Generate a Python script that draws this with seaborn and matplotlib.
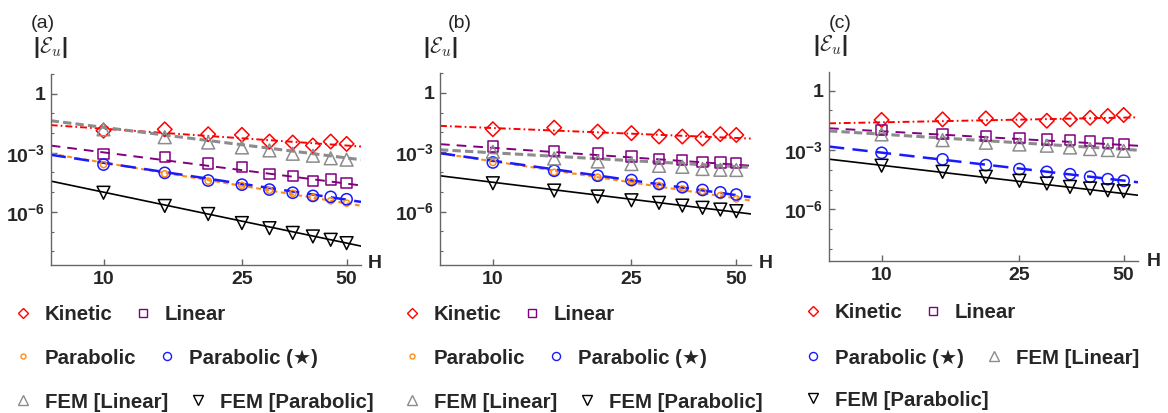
import numpy as np
import matplotlib
matplotlib.use("Agg")
import matplotlib.pyplot as plt
from matplotlib.lines import Line2D
from matplotlib.ticker import FixedLocator, FixedFormatter, LogLocator, NullLocator, NullFormatter
import seaborn as sns

H = [10, 15, 20, 25, 30, 35, 40, 45, 50]

labels = ["Kinetic", "Linear", "Parabolic", "Parabolic (★)", "FEM [Linear]", "FEM [Parabolic]"]

# log10 |E_u|, order: kinetic, linear, parabolic, parabolic*, FEM lin, FEM par
kin_a = [-1.88, -1.81, -2.06, -2.09, -2.43, -2.48, -2.63, -2.43, -2.55]
lin_a = [-3.05, -3.23, -3.55, -3.72, -4.07, -4.19, -4.44, -4.36, -4.52]
par_a = [-3.60, -4.07, -4.44, -4.66, -4.91, -5.06, -5.28, -5.44, -5.56]
pars_a = [-3.60, -4.02, -4.41, -4.62, -4.87, -5.03, -5.19, -5.24, -5.36]
feml_a = [-1.81, -2.21, -2.48, -2.73, -2.88, -3.05, -3.15, -3.28, -3.35]
femp_a = [-5.03, -5.70, -6.11, -6.57, -6.83, -7.07, -7.25, -7.42, -7.59]

kin_b = [-1.84, -1.76, -1.96, -2.04, -2.21, -2.21, -2.31, -2.09, -2.13]
lin_b = [-2.71, -2.93, -3.07, -3.22, -3.35, -3.40, -3.48, -3.52, -3.55]
par_b = [-3.52, -4.02, -4.27, -4.49, -4.69, -4.86, -4.99, -5.19, -5.36]
pars_b = [-3.52, -3.94, -4.19, -4.41, -4.61, -4.77, -4.91, -5.03, -5.14]
feml_b = [-2.98, -3.32, -3.47, -3.60, -3.69, -3.74, -3.85, -3.89, -3.90]
femp_b = [-4.57, -4.94, -5.24, -5.43, -5.56, -5.70, -5.81, -5.90, -5.98]

kin_c = [-1.48, -1.45, -1.40, -1.48, -1.52, -1.45, -1.37, -1.28, -1.23]
lin_c = [-1.99, -2.19, -2.28, -2.38, -2.46, -2.50, -2.56, -2.63, -2.71]
pars_c = [-3.14, -3.47, -3.76, -3.96, -4.10, -4.22, -4.35, -4.47, -4.55]
feml_c = [-2.21, -2.50, -2.63, -2.72, -2.78, -2.87, -2.95, -3.00, -3.04]
femp_c = [-3.79, -4.10, -4.35, -4.55, -4.69, -4.86, -4.94, -5.03, -5.08]

# power-law fits: log10 value at H=10 and exponent
fit10_a = [-1.78, -2.98, -3.50, -3.51, -1.71, -5.00]
slope_a = [-1.22, -2.27, -2.96, -2.68, -2.22, -3.70]
fit10_b = [-1.78, -2.78, -3.46, -3.43, -3.03, -4.52]
slope_b = [-0.72, -1.22, -2.68, -2.49, -1.00, -2.16]
fit10_c = [-1.60, -2.05, None, -3.13, -2.20, -3.77]
slope_c = [0.34, -0.99, None, -2.02, -1.09, -2.04]

colors = ["#ff0000", "#800080", "#ff8c1a", "#1a1aff", "#8c8c8c", "#000000"]
markers = ["D", "s", "o", "o", "^", "v"]
msize = [55, 55, 20, 65, 85, 85]
leg_ms = [5.2, 5.8, 3.6, 5.8, 7.0, 7.0]
lstyles = [(0, (5, 2.2, 1.2, 2.2)), (0, (7, 5)), (0, (3.5, 2.5)), (0, (11, 6)), (0, (6, 3)), "-"]
lwidths = [1.4, 1.4, 1.5, 1.8, 2.2, 1.2]

sns.set_style("ticks")
plt.rcParams["font.family"] = ["Liberation Sans", "DejaVu Sans"]
plt.rcParams["font.weight"] = "bold"
plt.rcParams["lines.scale_dashes"] = False

W, HP = 1168, 413
fig = plt.figure(figsize=(W / 100, HP / 100), dpi=100)


def rect(l, t, r, b):
    return [l / W, 1 - b / HP, (r - l) / W, (b - t) / HP]


def fp(x, y):
    return (x / W, 1 - y / HP)


panels = [
    dict(tag="(a)", data=[kin_a, lin_a, par_a, pars_a, feml_a, femp_a], f10=fit10_a, sl=slope_a,
         box=(50.7, 74, 361, 265), ylim=(10 ** -8.7, 10 ** 1.0), tagxy=(43, 24), ylab=(50, 48), hxy=(375, 264),
         x0=12.8, rows=[(0, 1), (2, 3), (4, 5)], rowy=[315, 358, 402]),
    dict(tag="(b)", data=[kin_b, lin_b, par_b, pars_b, feml_b, femp_b], f10=fit10_b, sl=slope_b,
         box=(440, 73, 750.7, 265), ylim=(10 ** -8.7, 10 ** 1.0), tagxy=(460, 24), ylab=(440, 48), hxy=(766, 264),
         x0=401.8, rows=[(0, 1), (2, 3), (4, 5)], rowy=[315, 358, 402]),
    dict(tag="(c)", data=[kin_c, lin_c, None, pars_c, feml_c, femp_c], f10=fit10_c, sl=slope_c,
         box=(829, 72, 1138, 261), ylim=(10 ** -8.6, 10 ** 0.94), tagxy=(840, 23), ylab=(830, 46), hxy=(1154, 261),
         x0=802.8, rows=[(0, 1), (3, 4), (5,)], rowy=[313, 358, 400]),
]

xlo, xhi = 7.05, 55
xs = np.geomspace(xlo, xhi, 80)

for p in panels:
    ax = fig.add_axes(rect(*p["box"]))
    for i, vals in enumerate(p["data"]):
        if vals is None:
            continue
        ax.plot(xs, 10 ** (p["f10"][i] + p["sl"][i] * np.log10(xs / 10)),
                color=colors[i], ls=lstyles[i], lw=lwidths[i], zorder=2)
        sns.scatterplot(x=H, y=10 ** np.array(vals), ax=ax, marker=markers[i], s=msize[i],
                        facecolor="none", edgecolor=colors[i], linewidth=1.1, zorder=3)
    ax.set_xscale("log")
    ax.set_yscale("log")
    ax.set_xlim(xlo, xhi)
    ax.set_ylim(*p["ylim"])
    ax.xaxis.set_major_locator(FixedLocator([10, 25, 50]))
    ax.xaxis.set_major_formatter(FixedFormatter(["10", "25", "50"]))
    ax.xaxis.set_minor_locator(NullLocator())
    ax.yaxis.set_major_locator(FixedLocator([1e-6, 1e-3, 1]))
    ax.yaxis.set_major_formatter(FixedFormatter([r"$\mathdefault{10^{-6}}$", r"$\mathdefault{10^{-3}}$", "1"]))
    ax.yaxis.set_minor_locator(LogLocator(base=10, subs=(1.0,), numticks=20))
    ax.yaxis.set_minor_formatter(NullFormatter())
    ax.tick_params(which="both", direction="in", color="#666666", labelsize=14, pad=4)
    ax.tick_params(which="major", length=4, width=1)
    ax.tick_params(which="minor", length=2.5, width=0.8)
    for s in ["top", "right"]:
        ax.spines[s].set_visible(False)
    for s in ["left", "bottom"]:
        ax.spines[s].set_color("#666666")
        ax.spines[s].set_linewidth(1.0)
    ax.set_xlabel("")
    ax.set_ylabel("")

    fig.text(*fp(*p["tagxy"]), p["tag"], fontsize=14, fontweight="normal", ha="center", va="center")
    fig.text(*fp(*p["ylab"]), r"|$\mathcal{E}_u$|", fontsize=15.5, fontweight="bold",
             math_fontfamily="cm", ha="center", va="center")
    fig.text(*fp(*p["hxy"]), "H", fontsize=14, fontweight="bold", ha="center", va="center")

    for row, ry in zip(p["rows"], p["rowy"]):
        handles = [Line2D([], [], ls="none", marker=markers[i], markersize=leg_ms[i],
                          markerfacecolor="none", markeredgecolor=colors[i], markeredgewidth=1.0,
                          label=labels[i]) for i in row]
        fig.legend(handles=handles, loc="center left", bbox_to_anchor=fp(p["x0"], ry), ncol=len(row),
                   frameon=False, borderpad=0, borderaxespad=0, handlelength=1.0, handletextpad=0.58,
                   columnspacing=0.97, prop=dict(size=14.7, weight="bold"))

fig.savefig("out.png", dpi=100)
